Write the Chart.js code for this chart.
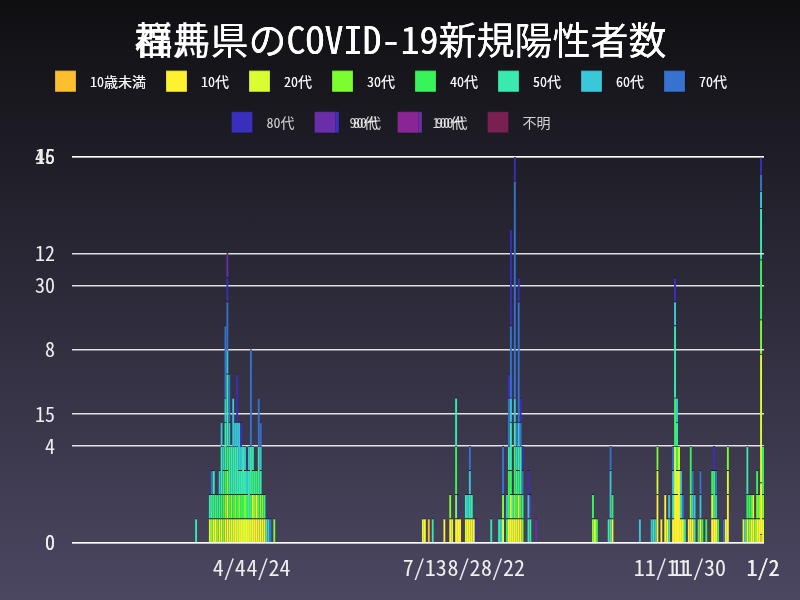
<!DOCTYPE html>
<html><head><meta charset="utf-8">
<script src="https://cdn.jsdelivr.net/npm/chart.js@4.4.1/dist/chart.umd.min.js"></script>
<style>
html,body{margin:0;padding:0;background:#0f0f12;}
#wrap{position:relative;width:800px;height:600px;background:linear-gradient(to bottom,#0f0f12 0%,#4b4762 100%);}
canvas{position:absolute;left:0;top:0;}
</style></head><body>
<div id="wrap"><canvas id="cb" width="800" height="600"></canvas><canvas id="ca" width="800" height="600"></canvas></div>
<script>
// ---- categories ----
const startDate = [2020, 1, 15];
const dayCount = 354;
const ageGroups = ['10歳未満','10代','20代','30代','40代','50代','60代','70代','80代','90代','100代','不明'];
const ageColors = ['#fdbf2d','#fdf22f','#d9fd30','#7cfd30','#38f45a','#38eaad','#38c8da','#3672cf','#3a2fbd','#6a2ea8','#8a2595','#7a2050'];
const titleA = ' 福井県のCOVID-19新規陽性者数';
const titleB = ' 群馬県のCOVID-19新規陽性者数';
const yTicksA = [0, 4, 8, 12, 16];
const yTicksB = [0, 15, 30, 45];
const xShownA = ['4/4','7/13','8/22','11/11','1/2'];
const xShownB = ['4/24','8/2','11/30','1/2'];

// ---- chart A values (date, count) per age group ----
const a_u10 = [['7/15',1]];
const a_10 = [['3/28',1],['4/3',1],['4/7',1],['4/10',1],['4/13',1],['4/16',1],['4/17',1],['4/18',1],['4/20',1],['4/21',1],['7/13',1],['7/23',1],['7/26',1],['7/29',1],['7/30',1],['7/31',1],['8/4',1],['8/5',1],['8/7',1],['8/25',1],['8/26',1],['8/28',1],['8/30',1],['8/31',1],['10/17',1],['11/9',2],['11/11',1],['11/13',2],['11/17',1],['11/18',2],['11/19',2],['11/20',3],['11/21',1],['11/25',1],['11/26',1],['11/27',1],['12/1',1],['12/7',1],['12/8',1],['12/9',1],['12/14',1],['12/15',2],['12/28',1],['12/31',1]];
const a_20 = [['3/25',1],['3/27',1],['3/30',1],['3/31',1],['4/2',1],['4/3',1],['4/4',1],['4/5',1],['4/6',1],['4/8',1],['4/9',1],['4/11',1],['4/12',1],['4/14',1],['4/15',1],['4/16',1],['4/18',1],['4/19',1],['4/22',1],['7/12',1],['7/27',1],['8/3',1],['8/6',1],['8/22',1],['8/26',1],['8/27',1],['8/29',1],['8/30',1],['10/8',1],['11/9',1],['11/14',1],['11/18',2],['11/19',1],['11/20',1],['11/22',1],['12/7',1],['12/15',1],['12/23',1],['12/25',1],['12/27',1],['12/28',1],['12/30',1],['1/2',1]];
const a_30 = [['3/26',1],['3/29',1],['4/1',1],['4/2',1],['4/3',1],['4/5',1],['4/7',1],['4/9',1],['4/12',1],['4/17',1],['4/20',1],['4/21',1],['4/27',1],['7/26',1],['7/29',1],['8/22',1],['8/28',1],['9/1',1],['10/7',1],['11/9',1],['11/26',1],['12/15',1],['12/26',1],['12/29',1],['12/30',1],['12/31',1],['1/2',1]];
const a_40 = [['3/27',1],['3/29',1],['3/31',1],['4/1',1],['4/2',1],['4/3',1],['4/4',1],['4/6',1],['4/8',1],['4/10',1],['4/11',1],['4/13',1],['4/15',1],['4/16',1],['4/18',1],['4/19',1],['7/29',2],['8/24',1],['8/25',2],['8/26',1],['8/28',2],['8/29',1],['8/30',1],['8/31',1],['10/7',1],['10/9',1],['10/17',1],['11/18',2],['11/19',1],['11/26',2],['11/30',1],['12/2',1],['12/4',1],['12/7',1],['12/8',2],['12/10',1],['12/25',1],['12/26',1],['12/27',1],['12/30',1],['1/2',2]];
const a_50 = [['3/18',1],['3/25',1],['3/26',1],['3/27',1],['3/28',1],['3/30',1],['3/31',2],['4/1',1],['4/2',2],['4/3',3],['4/4',2],['4/5',2],['4/6',2],['4/7',2],['4/8',2],['4/9',1],['4/10',1],['4/11',2],['4/12',1],['4/14',2],['4/15',2],['4/16',1],['4/17',1],['4/19',2],['4/20',1],['4/22',1],['4/23',1],['7/17',1],['7/29',2],['8/3',1],['8/5',1],['8/6',1],['8/16',1],['8/20',1],['8/25',1],['8/26',2],['8/27',1],['8/28',1],['8/29',1],['8/30',1],['8/31',2],['9/1',1],['9/4',1],['9/5',1],['10/15',1],['10/16',1],['11/7',1],['11/15',1],['11/17',1],['11/18',3],['11/19',1],['11/21',1],['11/23',1],['11/28',1],['12/25',2]];
const a_60 = [['3/30',1],['3/31',1],['4/1',1],['4/2',1],['4/3',1],['4/4',1],['4/6',2],['4/7',1],['4/8',1],['4/9',2],['4/10',1],['4/12',1],['4/13',1],['4/14',1],['4/20',1],['4/24',1],['8/4',1],['8/5',1],['8/21',1],['8/24',1],['8/26',1],['8/28',1],['8/29',1],['8/30',1],['9/4',1],['10/16',2],['10/31',1],['11/6',1],['11/8',1],['11/15',1],['11/17',1],['11/18',1],['11/19',1],['11/21',1],['11/27',1],['11/28',1],['12/1',1],['12/9',1],['12/24',1]];
const a_70 = [['3/26',1],['4/2',3],['4/3',2],['4/4',2],['4/15',4],['4/19',2],['4/20',1],['4/25',1],['8/5',1],['8/22',2],['8/25',2],['8/26',3],['8/28',9],['8/29',1],['8/30',5],['8/31',1],['9/1',1],['10/16',1],['11/17',1],['11/22',1],['11/27',1],['12/1',1],['12/9',1],['12/13',1]];
const a_80 = [['4/3',1],['4/8',2],['4/10',1],['7/30',1],['8/8',1],['8/25',1],['8/26',4],['8/28',1],['8/30',1],['8/31',1],['9/1',1],['9/4',1],['11/18',1],['12/8',1]];
const a_90 = [['4/3',1],['9/5',1],['9/8',1]];
const a_100 = [];
const a_unk = [];

// ---- chart B values ----
const b_u10 = [['1/1',1]];
const b_10 = [['1/1',6]];
const b_20 = [['1/1',15]];
const b_30 = [['1/1',4]];
const b_40 = [['1/1',7]];
const b_50 = [['1/1',6]];
const b_60 = [['1/1',2]];
const b_70 = [['1/1',2]];
const b_80 = [['1/1',2]];
const b_90 = [];

// ---- build ----
const labels = [];
{
  const d = new Date(startDate[0], startDate[1]-1, startDate[2]);
  for (let i = 0; i < dayCount; i++) {
    labels.push((d.getMonth()+1) + '/' + d.getDate());
    d.setDate(d.getDate()+1);
  }
}
function series(pairs) {
  const arr = new Array(labels.length).fill(null);
  pairs.forEach(([day, v]) => { const k = labels.indexOf(day); if (k >= 0) arr[k] = v; });
  return arr;
}
const seriesA = [a_u10,a_10,a_20,a_30,a_40,a_50,a_60,a_70,a_80,a_90,a_100,a_unk];
const seriesB = [b_u10,b_10,b_20,b_30,b_40,b_50,b_60,b_70,b_80,b_90];

const FONT = "'Noto Sans Mono CJK JP','Noto Sans CJK JP','DejaVu Sans Mono',monospace";
Chart.defaults.font.family = FONT;

function makeChart(id, list, title, yTicks, xShown) {
  const datasets = list.map((pairs, k) => ({
    label: ageGroups[k],
    data: series(pairs),
    backgroundColor: ageColors[k],
    borderColor: 'rgba(20,20,30,0.85)',
    borderWidth: {top: 1, left: 0, right: 0, bottom: 0},
    barPercentage: 1.0,
    categoryPercentage: 1.0
  }));
  const yMax = yTicks[yTicks.length-1];
  return new Chart(document.getElementById(id), {
    type: 'bar',
    data: {labels, datasets},
    options: {
      responsive: false,
      animation: false,
      devicePixelRatio: 1,
      layout: {padding: {top: 4, left: 18, right: 36, bottom: 15}},
      plugins: {
        title: {display: true, text: title, color: '#ffffff',
          font: {size: 38, lineHeight: 0.6, weight: 'normal'}, padding: {top: 24, bottom: 0}},
        subtitle: {display: true, text: '', weight: 500, font: {size: 1, lineHeight: 1}, padding: {top: 13, bottom: 0}},
        legend: {display: true, labels: {color: 'rgba(255,255,255,0.8)', font: {size: 14},
          boxWidth: 21, boxHeight: 21, padding: 20,
          generateLabels: chart => Chart.defaults.plugins.legend.labels.generateLabels(chart)
            .map(item => Object.assign(item, {text: ' ' + item.text}))}},
        tooltip: {enabled: false}
      },
      scales: {
        x: {stacked: true, grid: {display: false}, border: {display: false},
          ticks: {autoSkip: false, maxRotation: 0, minRotation: 0, color: '#eeeeee',
            font: {size: 22}, padding: 4,
            callback: function(v) { const l = this.getLabelForValue(v); return xShown.includes(l) ? l : ''; }}},
        y: {stacked: true, min: 0, max: yMax,
          afterBuildTicks: ax => { ax.ticks = yTicks.map(v => ({value: v})); },
          grid: {color: 'rgba(255,255,255,0.85)', lineWidth: 1.4, drawTicks: false}, border: {display: false},
          ticks: {color: '#eeeeee', font: {size: 20, lineHeight: 1.65}, padding: 17}}
      }
    }
  });
}
makeChart('cb', seriesB, titleB, yTicksB, xShownB);
makeChart('ca', seriesA, titleA, yTicksA, xShownA);
</script>
</body></html>
